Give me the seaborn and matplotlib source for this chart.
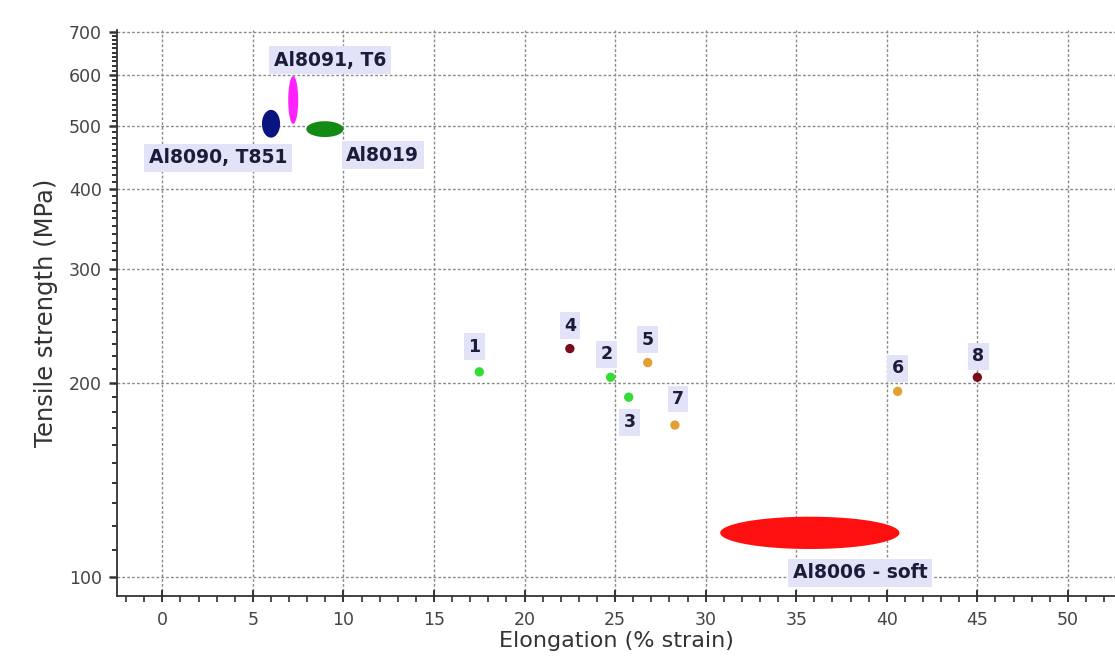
import numpy as np
import pandas as pd
import matplotlib
matplotlib.use("Agg")
import matplotlib.pyplot as plt
from matplotlib.ticker import FixedLocator, NullFormatter, FuncFormatter
import seaborn as sns

# ---- data ----
point_ids = ["1", "2", "3", "4", "5", "6", "7", "8"]
point_elong = [17.5, 24.75, 25.75, 22.5, 26.8, 40.6, 28.3, 45.0]
point_strength = [208, 204, 190, 226, 215, 194, 172, 204]
point_group = ["g", "g", "g", "r", "o", "o", "o", "r"]

alloy_names = ["Al8090, T851", "Al8091, T6", "Al8019", "Al8006 - soft"]
alloy_elong_min = [5.5, 6.95, 7.95, 30.8]
alloy_elong_max = [6.5, 7.5, 10.0, 40.7]
alloy_strength_min = [480, 504, 481, 110.5]
alloy_strength_max = [530, 598, 509, 124]

x_ticks = [0, 5, 10, 15, 20, 25, 30, 35, 40, 45, 50]
y_ticks = [100, 200, 300, 400, 500, 600, 700]

# ---- style ----
sns.set_theme(style="white")
plt.rcParams["font.family"] = ["DejaVu Sans"]

group_colors = {"g": "#33dd33", "r": "#7a0c1c", "o": "#e3a032"}
alloy_colors = ["#0a1480", "#ff22ff", "#138a13", "#ff1010"]
label_bg = "#e2e2f8"
label_fc = "#1c1c3a"

fig = plt.figure(figsize=(11.15, 6.66), dpi=100)
ax = fig.add_axes([0.105, 0.105, 0.895, 0.85])
ax.set_yscale("log")
ax.set_xlim(-2.5, 52.6)
ax.set_ylim(93.4, 705)

# grid
ax.set_xticks(x_ticks)
ax.yaxis.set_major_locator(FixedLocator(y_ticks))
ax.yaxis.set_major_formatter(FuncFormatter(lambda v, p: f"{int(round(v))}"))
minor_y = [v for v in range(100, 710, 10) if v not in y_ticks]
ax.yaxis.set_minor_locator(FixedLocator(minor_y))
ax.yaxis.set_minor_formatter(NullFormatter())
ax.xaxis.set_minor_locator(FixedLocator([v for v in np.arange(-2, 53, 1) if v % 5 != 0]))
ax.grid(True, which="major", color="#8a8a8a", linestyle=(0, (2, 1.5)), linewidth=1.0)
ax.set_axisbelow(True)

for s in ["top", "right"]:
    ax.spines[s].set_visible(False)
for s in ["left", "bottom"]:
    ax.spines[s].set_color("#333333")
    ax.spines[s].set_linewidth(1.3)

ax.tick_params(which="both", bottom=True, left=True, top=False, right=False)
ax.tick_params(axis="x", which="major", direction="inout", length=9, width=1.4,
               color="#333333", labelsize=12.5, labelcolor="#444444", pad=6)
ax.tick_params(axis="x", which="minor", direction="out", length=4, width=1.2, color="#333333")
ax.tick_params(axis="y", which="major", direction="out", length=6, width=1.8,
               color="#333333", labelsize=12.5, labelcolor="#444444", pad=5)
ax.tick_params(axis="y", which="minor", direction="out", length=3.5, width=1.4, color="#333333")

# ellipses (filled regions in data space)
t = np.linspace(0, 2 * np.pi, 200)
for i, name in enumerate(alloy_names):
    cx = (alloy_elong_min[i] + alloy_elong_max[i]) / 2
    rx = (alloy_elong_max[i] - alloy_elong_min[i]) / 2
    ly0, ly1 = np.log10(alloy_strength_min[i]), np.log10(alloy_strength_max[i])
    cy, ry = (ly0 + ly1) / 2, (ly1 - ly0) / 2
    ax.fill(cx + rx * np.cos(t), 10 ** (cy + ry * np.sin(t)), color=alloy_colors[i],
            zorder=3, linewidth=0)

# points
df = pd.DataFrame({"id": point_ids, "x": point_elong, "y": point_strength, "grp": point_group})
sns.scatterplot(data=df, x="x", y="y", hue="grp", palette=group_colors, s=45,
                edgecolor="none", legend=False, ax=ax, zorder=4)

bbox = dict(boxstyle="square,pad=0.25", fc=label_bg, ec="none")
pt_offsets = {"1": (-5, 25), "2": (-4, 23), "3": (1, -25), "4": (0, 23),
              "5": (0, 23), "6": (0, 23), "7": (3, 26), "8": (1, 21)}
for pid, x, y in zip(point_ids, point_elong, point_strength):
    ax.annotate(pid, (x, y), xytext=pt_offsets[pid], textcoords="offset pixels",
                ha="center", va="center", fontsize=12.5, fontweight="bold",
                color=label_fc, bbox=bbox, zorder=5)

alloy_offsets = [(-53, -34), (37, 40), (58, -26), (50, -40)]
for i, name in enumerate(alloy_names):
    cx = (alloy_elong_min[i] + alloy_elong_max[i]) / 2
    cy = np.sqrt(alloy_strength_min[i] * alloy_strength_max[i])
    ax.annotate(name, (cx, cy), xytext=alloy_offsets[i], textcoords="offset pixels",
                ha="center", va="center", fontsize=13.5, fontweight="bold",
                color=label_fc, bbox=bbox, zorder=5)

ax.set_xlabel("Elongation (% strain)", fontsize=16, color="#333333", labelpad=2)
ax.set_ylabel("Tensile strength (MPa)", fontsize=17.5, color="#333333", labelpad=8)

fig.savefig("out.png", dpi=100, facecolor="white")
